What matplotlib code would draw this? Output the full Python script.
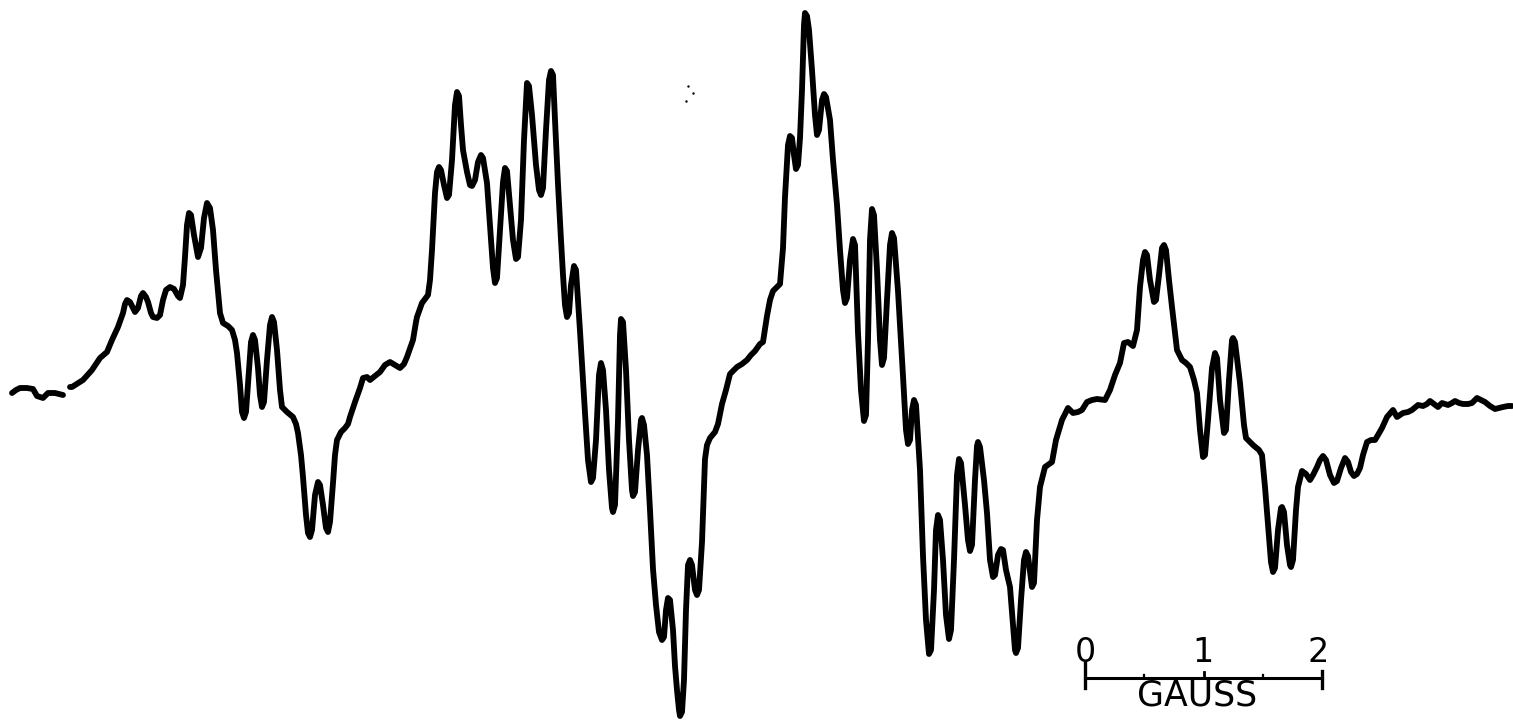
import numpy as np
import matplotlib
matplotlib.use("Agg")
import matplotlib.pyplot as plt

#################### DATA ####################
# trace: horizontal position (px) and pen height (px, down = larger)
field_pos = [
    12, 16, 20, 27, 33, 37, 43, 48, 55, 63, 66,
    70, 72, 83, 92, 100, 107, 112, 118, 123, 125, 127, 130, 135, 138, 141, 143, 146, 148,
    151, 153, 157, 160, 163, 166, 170, 174, 178, 180, 183, 185, 187, 189, 191, 194, 198,
    201, 204, 207, 210, 213, 216, 220, 223, 228, 232, 235, 237, 240, 242, 244, 246, 249,
    251, 253, 255, 258, 260, 262, 264, 267, 270, 272, 274, 277, 280, 282, 287, 293, 296,
    298, 301, 303, 306, 308, 310, 312, 315, 318, 320, 323, 326, 328, 330, 333, 335, 337,
    341, 345, 348, 350, 355, 360, 363, 367, 370, 375, 380, 385, 390, 395, 400, 404, 407,
    413, 416, 417, 422, 428, 430, 432, 435, 437, 439, 441, 444, 447, 449, 452, 455, 457,
    459, 461, 463, 467, 470, 472, 475, 478, 481, 483, 487, 490, 493, 495, 497, 500, 503,
    505, 507, 510, 513, 516, 518, 521, 524, 527, 529, 532, 536, 539, 541, 543, 546, 549,
    551, 553, 555, 558, 561, 563, 565, 567, 569, 571, 574, 576, 578, 580, 585, 588, 591,
    593, 596, 599, 601, 603, 606, 609, 612, 613, 615, 618, 620, 621, 623, 626, 629, 632,
    633, 635, 638, 641, 642, 644, 647, 650, 653, 656, 659, 662, 664, 666, 668, 670, 673,
    675, 677, 679, 680, 682, 684, 686, 688, 690, 692, 695, 697, 699, 702, 705, 707, 710,
    715, 718, 722, 726, 730, 737, 742, 747, 751, 755, 760, 763, 767, 770, 773, 780, 782,
    783, 785, 788, 790, 792, 794, 796, 798, 800, 802, 804, 805, 807, 809, 812, 815, 817,
    819, 822, 824, 826, 830, 833, 837, 840, 843, 845, 847, 850, 853, 855, 858, 861, 864,
    866, 868, 870, 872, 874, 877, 880, 882, 884, 887, 890, 892, 894, 898, 903, 906, 908,
    910, 912, 914, 916, 920, 923, 926, 929, 931, 934, 936, 938, 940, 943, 946, 949, 951,
    954, 957, 959, 961, 965, 968, 970, 972, 975, 977, 978, 980, 984, 987, 990, 993, 995,
    998, 1001, 1003, 1006, 1010, 1013, 1015, 1016, 1018, 1021, 1024, 1026, 1028, 1032,
    1034, 1037, 1040, 1045, 1052, 1056, 1062, 1068, 1073, 1078, 1082, 1087, 1092, 1097,
    1105, 1110, 1115, 1120, 1124, 1128, 1133, 1137, 1140, 1143, 1145, 1147, 1150, 1154,
    1156, 1159, 1162, 1164, 1166, 1169, 1172, 1177, 1182, 1186, 1190, 1194, 1197, 1200,
    1203, 1205, 1208, 1212, 1215, 1217, 1220, 1224, 1226, 1229, 1232, 1233, 1235, 1240,
    1244, 1246, 1253, 1259, 1262, 1265, 1268, 1271, 1273, 1275, 1278, 1281, 1282, 1284,
    1287, 1290, 1291, 1293, 1296, 1298, 1302, 1306, 1310, 1313, 1317, 1320, 1323, 1326,
    1330, 1334, 1337, 1341, 1345, 1348, 1351, 1354, 1357, 1360, 1363, 1367, 1371, 1375,
    1378, 1382, 1387, 1393, 1397, 1400, 1403, 1408, 1412, 1418, 1423, 1427, 1430, 1434,
    1438, 1442, 1448, 1452, 1455, 1459, 1463, 1468, 1472, 1477, 1481, 1485, 1490, 1495,
    1499, 1503, 1508, 1512,
]
signal = [
    393, 390, 388, 388, 389, 396, 398, 393, 393, 395, np.nan,
    387, 387, 380, 370, 358, 352, 340, 327, 313, 304, 300, 302, 312, 308, 296, 293, 297, 302,
    313, 317, 318, 315, 300, 290, 287, 289, 296, 298, 285, 257, 225, 213, 215, 235, 257,
    248, 218, 203, 208, 230, 270, 313, 323, 326, 330, 340, 353, 385, 412, 418, 412, 370,
    342, 335, 340, 368, 395, 407, 402, 360, 325, 317, 322, 350, 390, 407, 412, 417, 424,
    433, 455, 477, 515, 533, 537, 530, 495, 482, 485, 505, 528, 532, 522, 483, 455, 440,
    432, 428, 424, 417, 402, 388, 378, 377, 380, 376, 372, 365, 362, 365, 368, 364, 357,
    340, 322, 317, 303, 295, 280, 250, 193, 172, 167, 170, 185, 198, 195, 160, 105, 92,
    96, 125, 150, 172, 185, 186, 180, 162, 155, 158, 183, 225, 268, 283, 278, 230, 182,
    168, 171, 205, 240, 259, 257, 220, 140, 83, 86, 115, 165, 190, 195, 188, 130, 80,
    71, 75, 120, 184, 240, 275, 305, 317, 313, 285, 266, 270, 300, 331, 413, 460, 482,
    478, 440, 375, 363, 370, 410, 470, 508, 512, 505, 420, 335, 319, 322, 370, 440, 490,
    496, 492, 450, 420, 418, 425, 455, 510, 569, 605, 632, 640, 637, 610, 598, 600, 630,
    666, 690, 710, 716, 712, 680, 610, 565, 560, 565, 590, 595, 590, 542, 459, 445, 438,
    432, 424, 404, 390, 374, 367, 364, 360, 355, 351, 344, 342, 316, 300, 291, 284, 260,
    248, 197, 145, 136, 138, 155, 169, 165, 138, 90, 25, 13, 16, 30, 70, 115, 135,
    130, 100, 94, 97, 120, 160, 205, 250, 290, 303, 298, 260, 239, 245, 333, 390, 421,
    415, 340, 240, 209, 215, 270, 340, 365, 358, 300, 245, 233, 238, 291, 376, 430, 444,
    440, 410, 400, 405, 470, 556, 620, 654, 650, 590, 530, 515, 520, 560, 615, 639, 630,
    560, 475, 459, 463, 505, 540, 551, 545, 480, 446, 442, 447, 480, 513, 560, 577, 575,
    555, 549, 550, 570, 587, 625, 650, 653, 648, 600, 560, 552, 556, 587,
    583, 520, 487, 467, 462, 440, 420, 408, 413, 412, 410, 402, 400, 399,
    400, 390, 375, 363, 343, 342, 346, 330, 287, 260, 252, 255, 280, 302,
    300, 275, 248, 245, 250, 280, 307, 350, 360, 363, 367, 380, 393, 430,
    457, 455, 420, 368, 353, 358, 400, 433, 430, 380, 340, 338, 342, 383,
    425, 438, 445, 450, 455, 487, 525, 562, 572, 568, 530, 508, 507, 512,
    545, 565, 567, 560, 510, 487, 471, 474, 480, 475, 467, 460, 456, 460,
    475, 483, 481, 468, 458, 462, 472, 476, 474, 468, 455, 442, 440, 440,
    435, 428, 417, 410, 417, 415, 413, 412, 410, 405, 406, 404, 401, 404,
    407, 403, 405, 403, 401, 403, 404, 404, 403, 398, 400, 402, 406, 409,
    408, 407, 406, 406,
]

# field scale bar (gauss)
scale_values = [0, 1, 2]
scale_minor = [0.5, 1.5]
scale_unit = "GAUSS"

# stray specks on the chart paper
speck_x = [688, 693, 686]
speck_y = [86, 93, 101]

#################### PLOT ####################
fig = plt.figure(figsize=(15.13, 7.2), dpi=100)
ax = fig.add_axes([0, 0, 1, 1])
ax.set_xlim(0, 1513)
ax.set_ylim(720, 0)
ax.axis("off")

ax.plot(field_pos, signal, color="black", lw=4.2,
        solid_joinstyle="round", solid_capstyle="round")
ax.scatter(speck_x, speck_y, s=3, color="black", lw=0)

## scale bar
x0, px_per_gauss, bar_y = 1085, 118.5, 678
bar_x = [x0 + v * px_per_gauss for v in scale_values]
ax.plot([bar_x[0], bar_x[-1]], [bar_y, bar_y], color="black", lw=2.2)
ax.plot([bar_x[0], bar_x[0]], [662, 688], color="black", lw=2.4)
ax.plot([bar_x[-1], bar_x[-1]], [671, 688], color="black", lw=2.4)
ax.plot([bar_x[1], bar_x[1]], [672, bar_y], color="black", lw=2.0)
for v in scale_minor:
    xm = x0 + v * px_per_gauss
    ax.plot([xm, xm], [675, bar_y], color="black", lw=1.6)
for v, xv in zip(scale_values, bar_x):
    ax.text(xv - (4 if v == 2 else 0), 653, str(v), ha="center", va="center",
            fontsize=24, family="DejaVu Sans")
ax.text((bar_x[0] + bar_x[-1]) / 2 - 6, 696, scale_unit, ha="center", va="center",
        fontsize=25, family="DejaVu Sans")

fig.savefig("out.png", dpi=100)
